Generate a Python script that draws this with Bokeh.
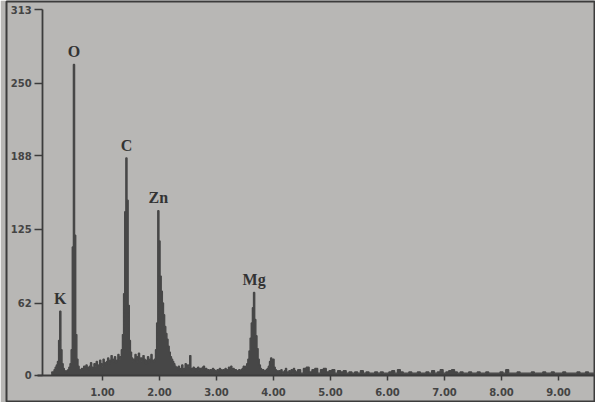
import numpy as np
from bokeh.plotting import figure
from bokeh.models import LinearAxis, FixedTicker, NumeralTickFormatter, ColumnDataSource
from bokeh.core.properties import value
from bokeh.embed import file_html
from bokeh.resources import INLINE

# ---- data ----
# fine channels (0.02 keV) from 0.10 keV to 4.38 keV
counts_low = [
    2, 3, 3, 5, 7, 9, 12, 30, 55, 22,          # 0.10-0.28
    10, 6, 4, 3, 4, 5, 7, 10, 22, 110,         # 0.30-0.48
    266, 120, 35, 14, 8, 5, 4, 6, 5, 8,        # 0.50-0.68
    6, 9, 7, 5, 8, 11, 7, 6, 10, 8,            # 0.70-0.88
    12, 9, 7, 13, 10, 8, 14, 11, 9, 12,        # 0.90-1.08
    15, 10, 13, 17, 12, 14, 16, 11, 13, 18,    # 1.10-1.28
    14, 16, 22, 35, 70, 140, 186, 150, 60, 30, # 1.30-1.48
    20, 15, 12, 14, 18, 11, 16, 19, 13, 15,    # 1.50-1.68
    12, 17, 14, 10, 13, 16, 11, 14, 18, 13,    # 1.70-1.88
    12, 14, 22, 45, 141, 115, 85, 72, 62, 52,  # 1.90-2.08
    42, 36, 31, 25, 20, 16, 14, 12, 10, 8,     # 2.10-2.28
    7, 5, 8, 6, 4, 9, 5, 6, 10, 7,             # 2.30-2.48
    9, 8, 17, 6, 5, 7, 4, 6, 5, 7,             # 2.50-2.68
    4, 6, 5, 7, 8, 5, 6, 4, 5, 3,              # 2.70-2.88
    5, 4, 6, 5, 4, 3, 5, 4, 6, 5,              # 2.90-3.08
    4, 5, 3, 6, 4, 5, 7, 6, 8, 5,              # 3.10-3.28
    6, 4, 5, 4, 3, 5, 4, 5, 6, 8,              # 3.30-3.48
    6, 8, 10, 14, 21, 32, 45, 58, 71, 48,      # 3.50-3.68
    34, 23, 14, 9, 6, 4, 5, 3, 4, 5,           # 3.70-3.88
    6, 8, 12, 15, 10, 14, 7, 5, 4, 3,          # 3.90-4.08
    4, 3, 5, 2, 3, 4, 6, 3, 2, 4,              # 4.10-4.28
    3, 5, 2, 6, 4,                             # 4.30-4.38
]
low_start, low_step = 0.10, 0.02

# coarser channels (0.05 keV) from 4.40 keV to 9.75 keV
counts_high = [
    3, 5, 2, 6, 7, 3, 5, 6, 2, 5,
    6, 3, 4, 5, 2, 4, 3, 4, 2, 3,
    2, 3, 2, 4, 2, 3, 2, 2, 3, 2,
    3, 2, 2, 3, 4, 2, 5, 3, 2, 2,
    3, 2, 2, 3, 2, 2, 3, 2, 4, 2,
    3, 5, 2, 3, 4, 5, 3, 2, 3, 2,
    2, 3, 2, 2, 3, 2, 2, 3, 2, 2,
    2, 2, 3, 2, 5, 2, 2, 2, 3, 2,
    2, 2, 2, 3, 2, 2, 2, 3, 2, 2,
    3, 2, 2, 2, 3, 2, 2, 2, 2, 3,
    2, 2, 3, 2, 2, 2, 2, 2,
]
high_start, high_step = 4.40, 0.05

peak_names = ["K", "O", "C", "Zn", "Mg"]
peak_energy = [0.26, 0.50, 1.42, 1.98, 3.66]
peak_counts = [55, 266, 186, 141, 71]

x_ticks = [1, 2, 3, 4, 5, 6, 7, 8, 9]
y_ticks = [0, 62, 125, 188, 250, 313]

# ---- build ----
energy = np.concatenate([
    low_start + low_step * np.arange(len(counts_low)),
    high_start + high_step * np.arange(len(counts_high)),
])
counts = np.array(counts_low + counts_high, dtype=float)

BG = "#b8b7b5"
INK = "#3c3c3c"
SPEC = "#474747"

p = figure(width=595, height=402, output_backend="svg", toolbar_location=None,
           x_range=(-0.684, 9.649), y_range=(-23.1, 319.9),
           x_axis_location=None, y_axis_location=None,
           min_border_left=6, min_border_top=1, min_border_right=0, min_border_bottom=0)
p.background_fill_color = BG
p.border_fill_color = BG
p.outline_line_color = INK
p.outline_line_width = 2
p.grid.visible = False

src = ColumnDataSource(dict(x=energy, y1=np.zeros_like(counts), y2=counts))
p.varea_step(x="x", y1="y1", y2="y2", step_mode="center", source=src, fill_color=SPEC)
p.step(x="x", y="y2", mode="center", source=src, line_color=SPEC, line_width=1.4)

yaxis = LinearAxis(ticker=FixedTicker(ticks=y_ticks), fixed_location=-0.05, bounds=(0, 313))
xaxis = LinearAxis(ticker=FixedTicker(ticks=x_ticks), fixed_location=0, bounds=(-0.14, 9.7),
                   formatter=NumeralTickFormatter(format="0.00"))
for ax in (xaxis, yaxis):
    ax.axis_line_color = INK
    ax.axis_line_width = 1.8
    ax.major_tick_line_color = INK
    ax.major_tick_line_width = 1.5
    ax.major_tick_in = 0
    ax.minor_tick_line_color = None
    ax.major_label_text_font = "DejaVu Sans"
    ax.major_label_text_font_style = "bold"
    ax.major_label_text_font_size = "10px"
    ax.major_label_text_color = "#444444"
yaxis.major_tick_out = 8
yaxis.major_label_standoff = 3
xaxis.major_tick_out = 5
xaxis.major_label_standoff = 8
p.add_layout(yaxis, "left")
p.add_layout(xaxis, "below")

lsrc = ColumnDataSource(dict(x=peak_energy, y=peak_counts, t=peak_names))
p.text(x="x", y="y", text="t", source=lsrc, y_offset=-13,
       text_align="center", text_baseline="middle",
       text_font=value("Liberation Serif"), text_font_style="bold",
       text_font_size="16px", text_color="#333333")

html = file_html(p, INLINE)
html = html.replace("<body>", '<body style="background-color:%s;">' % BG, 1)
open("out.html", "w").write(html)
